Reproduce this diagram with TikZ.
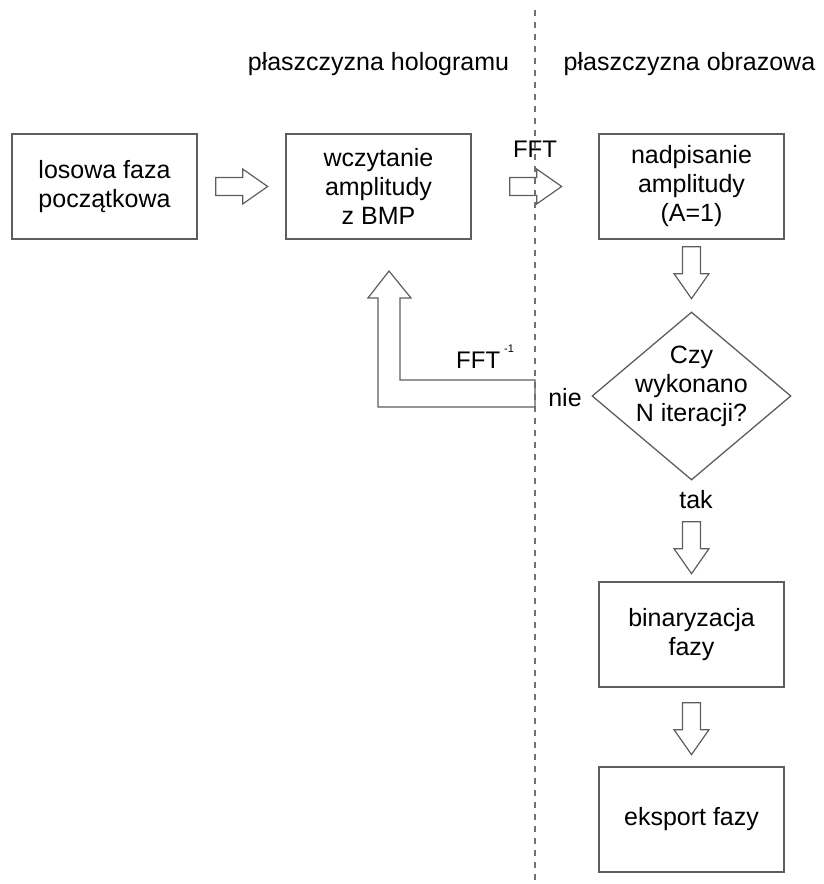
\documentclass[tikz,border=0pt]{standalone}
\usepackage{fontspec}
\setmainfont{Liberation Sans}
\usetikzlibrary{shapes.geometric,calc}
\definecolor{edge}{HTML}{5E5E5E}
\definecolor{dashc}{HTML}{707070}
\tikzset{
  box/.style={draw=edge, line width=1.3pt, minimum width=185pt, minimum height=105pt, inner sep=0pt, align=center, font=\fontsize{25}{29}\selectfont},
  lbl/.style={font=\fontsize{25}{29}\selectfont, inner sep=0pt},
  arrline/.style={draw=edge, line width=1.2pt, fill=white, line join=miter},
  dashline/.style={draw=dashc, line width=1.2pt, dash pattern=on 6pt off 6pt},
  pics/barrow/.style={code={\draw[arrline] (0,-9) -- (27,-9) -- (27,-17.5) -- (52,0) -- (27,17.5) -- (27,9) -- (0,9) -- cycle;}}
}
\begin{document}
\begin{tikzpicture}[x=1pt,y=-1pt]
\useasboundingbox (0,0) rectangle (823,884);
% dashed divider
\coordinate (dtop) at (535,10);
\coordinate (dbot) at (535,884);
\draw[dashline] (dtop) -- (dbot);
% headers
\node[lbl, anchor=base] (h1) at (378.5,70) {płaszczyzna hologramu};
\node[lbl, anchor=base] (h2) at (689.5,70) {płaszczyzna obrazowa};
% boxes
\node[box] (b1) at (104.5,186.5) {losowa faza\\początkowa};
\node[box] (b2) at (378.5,186.5) {wczytanie\\amplitudy\\z BMP};
\node[box] (b3) at (691.5,186.5) {nadpisanie\\amplitudy\\(A=1)};
\node[draw=edge, line width=1.3pt, diamond, minimum width=199pt, minimum height=168pt, inner sep=0pt, aspect=1.18] (dec) at (691.5,396) {};
\node[lbl, align=center] (dect) at (691.5,386) {Czy\\wykonano\\N iteracji?};
\node[box] (bin) at (691.5,634.5) {binaryzacja\\fazy};
\node[box] (exp) at (691.5,819.5) {eksport fazy};
% block arrows
\pic at ($(b1.east)+(18,0)$) {barrow};
\pic at ($(b2.east)+(38,0)$) {barrow};
\pic[rotate=-90] at ($(b3.south)+(0,7)$) {barrow};
\pic[rotate=-90] at ($(dec.south)+(0,41)$) {barrow};
\pic[rotate=-90] at ($(bin.south)+(0,15)$) {barrow};
% return arrow
\coordinate (ret) at (535,393.5);
\draw[arrline] ($(ret)+(0,-13.5)$) -- (400,380) -- (400,298) -- (411,298) -- (389,271) -- (368,298) -- (378,298) -- (378,407) -- ($(ret)+(0,13.5)$) -- cycle;
\draw[dashline] (dtop) -- (dbot);
% labels
\node[font=\fontsize{24}{28}\selectfont, inner sep=0pt, anchor=base] (fft) at (535,157) {FFT};
\node[font=\fontsize{24}{28}\selectfont, inner sep=0pt, anchor=base west] (ifft) at (456,368) {FFT\hspace{4pt}\raisebox{16pt}{\fontsize{11}{11}\selectfont -1}};
\node[lbl, anchor=base] (nie) at (565,406) {nie};
\node[lbl, anchor=base] (tak) at (696,508) {tak};
\end{tikzpicture}
\end{document}
